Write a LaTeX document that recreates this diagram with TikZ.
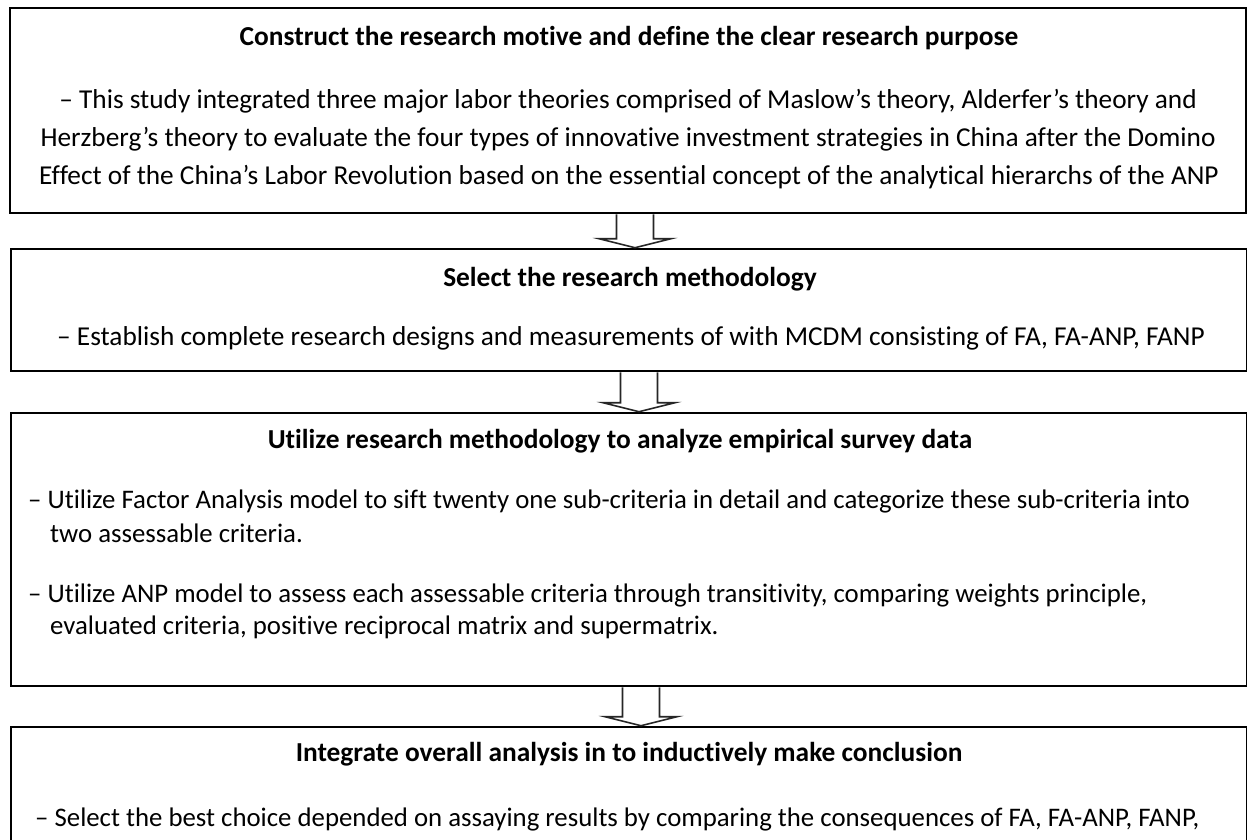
\documentclass[tikz,border=0pt]{standalone}
\usepackage{fontspec}
\setmainfont{Carlito}[Ligatures=NoCommon]
\usetikzlibrary{calc}

% hollow block arrow from the bottom of one box to the top of the next
\newcommand\flowarrow[3]{%
  \draw[hollowarrow] let \p1=(#1.south), \p2=(#2.north) in
    (#3-18.5,\y1) -- (#3-18.5,\y2+9) -- (#3-36,\y2+9) -- (#3,\y2)
    -- (#3+36,\y2+9) -- (#3+18.5,\y2+9) -- (#3+18.5,\y1);}

\begin{document}
\begin{tikzpicture}[x=1pt,y=-1pt,
  flowbox/.style={draw=black, line width=2.6pt, fill=white, inner sep=0pt,
    minimum width=1236pt},
  hollowarrow/.style={draw=black!85, line width=1.6pt, fill=white, line join=miter},
  headtext/.style={anchor=base, inner sep=0pt, font=\fontsize{27.4}{32}\selectfont\bfseries},
  bodytext/.style={anchor=base, inner sep=0pt, font=\fontsize{27.3}{32}\selectfont},
  itemtext/.style={anchor=base west, inner sep=0pt, font=\fontsize{26.8}{32}\selectfont}]
\clip (0,0) rectangle (1247,839);
\fill[white] (0,0) rectangle (1247,839);

% the four stages
\node[flowbox, minimum height=205pt] (b1) at (628,110.5) {};
\node[flowbox, minimum height=122pt] (b2) at (629,310) {};
\node[flowbox, minimum height=273pt] (b3) at (629,549.5) {};
\node[flowbox, minimum height=273pt] (b4) at (629,863.5) {};

% arrows between the stages
\flowarrow{b1}{b2}{635}
\flowarrow{b2}{b3}{639}
\flowarrow{b3}{b4}{641}

% stage 1
\node[headtext] (h1) at (629,45) {Construct the research motive and define the clear research purpose};
\node[bodytext] (l1a) at (628,108) {– This study integrated three major labor theories comprised of Maslow’s theory, Alderfer’s theory and};
\node[bodytext] (l1b) at (628,146) {Herzberg’s theory to evaluate the four types of innovative investment strategies in China after the Domino};
\node[bodytext] (l1c) at (629,184) {Effect of the China’s Labor Revolution based on the essential concept of the analytical hierarchs of the ANP};

% stage 2
\node[headtext] (h2) at (630,286) {Select the research methodology};
\node[bodytext] (l2a) at (631,345) {– Establish complete research designs and measurements of with MCDM consisting of FA, FA-ANP, FANP};

% stage 3
\node[headtext] (h3) at (620,448) {Utilize research methodology to analyze empirical survey data};
\node[itemtext] (l3a) at (28,508) {– Utilize Factor Analysis model to sift twenty one sub-criteria in detail and categorize these sub-criteria into};
\node[itemtext] (l3b) at (50,542) {two assessable criteria.};
\node[itemtext] (l3c) at (28,602) {– Utilize ANP model to assess each assessable criteria through transitivity, comparing weights principle,};
\node[itemtext] (l3d) at (50,634) {evaluated criteria, positive reciprocal matrix and supermatrix.};

% stage 4
\node[headtext] (h4) at (629,761) {Integrate overall analysis in to inductively make conclusion};
\node[itemtext] (l4a) at (35,826) {– Select the best choice depended on assaying results by comparing the consequences of FA, FA-ANP, FANP,};
\end{tikzpicture}
\end{document}
